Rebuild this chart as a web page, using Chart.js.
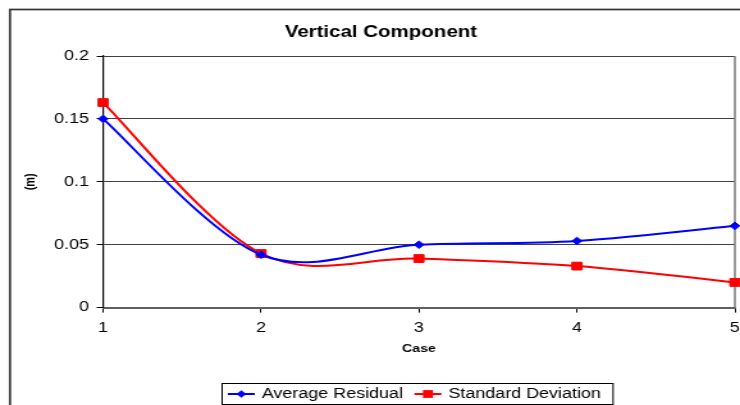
<!DOCTYPE html>
<html>
<head>
<meta charset="utf-8">
<script src="https://cdn.jsdelivr.net/npm/chart.js@4.4.0/dist/chart.umd.min.js"></script>
<style>
  html, body { margin: 0; padding: 0; background: #fff; overflow: hidden; }
  #wrap { width: 740px; height: 405px; overflow: hidden; }
  /* the original picture is stretched sideways, so draw narrow and widen */
  #chart { display: block; width: 578px; height: 405px; transform: scaleX(1.2803); transform-origin: 0 0; }
</style>
</head>
<body>
<div id="wrap"><canvas id="chart" width="578" height="405"></canvas></div>
<script>
const categories = ["1", "2", "3", "4", "5"];
const avgResidual = [0.150, 0.042, 0.050, 0.053, 0.065];
const stdDeviation = [0.163, 0.043, 0.039, 0.033, 0.020];
const yTickLabels = ["0", "0.05", "0.1", "0.15", "0.2"];
const seriesNames = ["Average Residual", "Standard Deviation"];

const FONT = "'Liberation Sans', Arial, Helvetica, sans-serif";

function markerPath(ctx, style, r, x, y) {
  ctx.beginPath();
  if (style === "rectRot") {
    ctx.moveTo(x - r, y);
    ctx.lineTo(x, y - r);
    ctx.lineTo(x + r, y);
    ctx.lineTo(x, y + r);
  } else {
    const s = Math.SQRT1_2 * r;
    ctx.rect(x - s, y - s, 2 * s, 2 * s);
  }
  ctx.closePath();
}

// outer frame + plot border
const frame = {
  id: "frame",
  beforeDraw(chart) {
    const ctx = chart.ctx;
    ctx.save();
    ctx.fillStyle = "#fff";
    ctx.fillRect(0, 0, chart.width, chart.height);
    ctx.strokeStyle = "#333";
    ctx.lineWidth = 1.7;
    ctx.strokeRect(7.8, 9.5, 700, 500);
    ctx.restore();
  },
  beforeDatasetsDraw(chart) {
    const a = chart.chartArea, ctx = chart.ctx;
    ctx.save();
    ctx.strokeStyle = "#808080";
    ctx.lineWidth = 1.6;
    ctx.beginPath();
    ctx.moveTo(a.right, a.top);
    ctx.lineTo(a.right, a.bottom);
    ctx.stroke();
    ctx.restore();
  }
};

// Excel smooths with plain Catmull-Rom (1/6 of neighbour span), not distance weighted
const excelSmooth = {
  id: "excelSmooth",
  beforeDatasetsDraw(chart) {
    chart.data.datasets.forEach((ds, i) => {
      const meta = chart.getDatasetMeta(i);
      const pts = meta.data;
      meta.dataset.updateControlPoints(chart.chartArea);
      for (let k = 0; k < pts.length; k++) {
        const p = pts[k];
        const prev = pts[Math.max(k - 1, 0)];
        const next = pts[Math.min(k + 1, pts.length - 1)];
        const dx = (next.x - prev.x) / 6, dy = (next.y - prev.y) / 6;
        p.cp1x = p.x - dx; p.cp1y = p.y - dy;
        p.cp2x = p.x + dx; p.cp2y = p.y + dy;
      }
    });
  }
};

// Excel style boxed legend with line + marker samples
const legendBox = {
  id: "legendBox",
  afterDraw(chart) {
    const ctx = chart.ctx;
    const area = chart.chartArea;
    ctx.save();
    ctx.font = "14px " + FONT;
    const items = chart.data.datasets.map(ds => ({ ds, w: ctx.measureText(ds.label).width }));
    const sample = 21, gap = 5.5, itemGap = 9, padL = 5, padR = 9;
    let total = padL + padR;
    items.forEach((it, i) => { total += sample + gap + it.w + (i ? itemGap : 0); });
    let x = Math.round((area.left + area.right) / 2 - total / 2) - 2;
    const top = 383, h = 21, cy = 394;
    ctx.strokeStyle = "#000";
    ctx.lineWidth = 1;
    ctx.strokeRect(x + 0.5, top + 0.5, total, h);
    x += padL;
    items.forEach((it, i) => {
      if (i) x += itemGap;
      const ds = it.ds;
      ctx.strokeStyle = ds.borderColor;
      ctx.lineWidth = 2;
      ctx.beginPath();
      ctx.moveTo(x, cy);
      ctx.lineTo(x + sample, cy);
      ctx.stroke();
      ctx.fillStyle = ds.backgroundColor;
      markerPath(ctx, ds.pointStyle, ds.pointRadius, x + sample / 2, cy);
      ctx.fill();
      x += sample + gap;
      ctx.fillStyle = "#000";
      ctx.textBaseline = "middle";
      ctx.textAlign = "left";
      ctx.fillText(ds.label, x, cy);
      x += it.w;
    });
    ctx.restore();
  }
};

const ctx = document.getElementById("chart").getContext("2d");
const chart = new Chart(ctx, {
  type: "line",
  data: {
    labels: categories,
    datasets: [
      {
        label: seriesNames[0],
        data: avgResidual,
        borderColor: "#0000FF",
        backgroundColor: "#0000FF",
        borderWidth: 2,
        pointStyle: "rectRot",
        pointRadius: 3.8,
        pointHoverRadius: 3.8,
        pointBorderWidth: 1,
        tension: 0.35,
        clip: false
      },
      {
        label: seriesNames[1],
        data: stdDeviation,
        borderColor: "#FF0000",
        backgroundColor: "#FF0000",
        borderWidth: 2,
        pointStyle: "rect",
        pointRadius: 5.5,
        pointHoverRadius: 5.5,
        pointBorderWidth: 1,
        tension: 0.35,
        clip: false
      }
    ]
  },
  options: {
    responsive: false,
    animation: false,
    events: [],
    layout: { autoPadding: false, padding: { left: 21, right: 4, top: 10, bottom: 49.4 } },
    plugins: {
      legend: { display: false },
      tooltip: { enabled: false },
      title: {
        display: true,
        text: "Vertical Component",
        color: "#000",
        font: { family: FONT, size: 16, weight: "bold" },
        padding: { top: 13.4, bottom: 13.4 }
      }
    },
    scales: {
      x: {
        type: "category",
        offset: false,
        grid: { drawOnChartArea: false, drawTicks: true, tickLength: 5, tickColor: "#000", tickWidth: 1 },
        border: { color: "#606060", width: 2 },
        ticks: { color: "#000", padding: 7.5, maxRotation: 0, font: { family: FONT, size: 14 } },
        title: {
          display: true,
          text: "Case",
          color: "#000",
          font: { family: FONT, size: 11, weight: "bold" },
          padding: { top: 4, bottom: 0 }
        },
        afterFit(s) { s.height = 48; s.paddingLeft = 0; s.paddingRight = 0; }
      },
      y: {
        min: 0,
        max: 0.2,
        ticks: {
          stepSize: 0.05,
          color: "#000",
          padding: 6,
          font: { family: FONT, size: 14 },
          callback: (v, i) => yTickLabels[i]
        },
        grid: {
          color: c => (c.index === 0 ? "rgba(0,0,0,0)" : "#404040"),
          lineWidth: 1,
          drawTicks: true,
          tickLength: 5,
          tickColor: "#000"
        },
        border: { color: "#000", width: 1.2 },
        title: {
          display: true,
          text: "(m)",
          color: "#000",
          font: { family: FONT, size: 11, weight: "bold" },
          padding: { top: -3.4, bottom: 0 }
        },
        afterFit(s) { s.width = 59.5; s.paddingTop = 0; s.paddingBottom = 0; }
      }
    }
  },
  plugins: [frame, excelSmooth, legendBox]
});
</script>
</body>
</html>
